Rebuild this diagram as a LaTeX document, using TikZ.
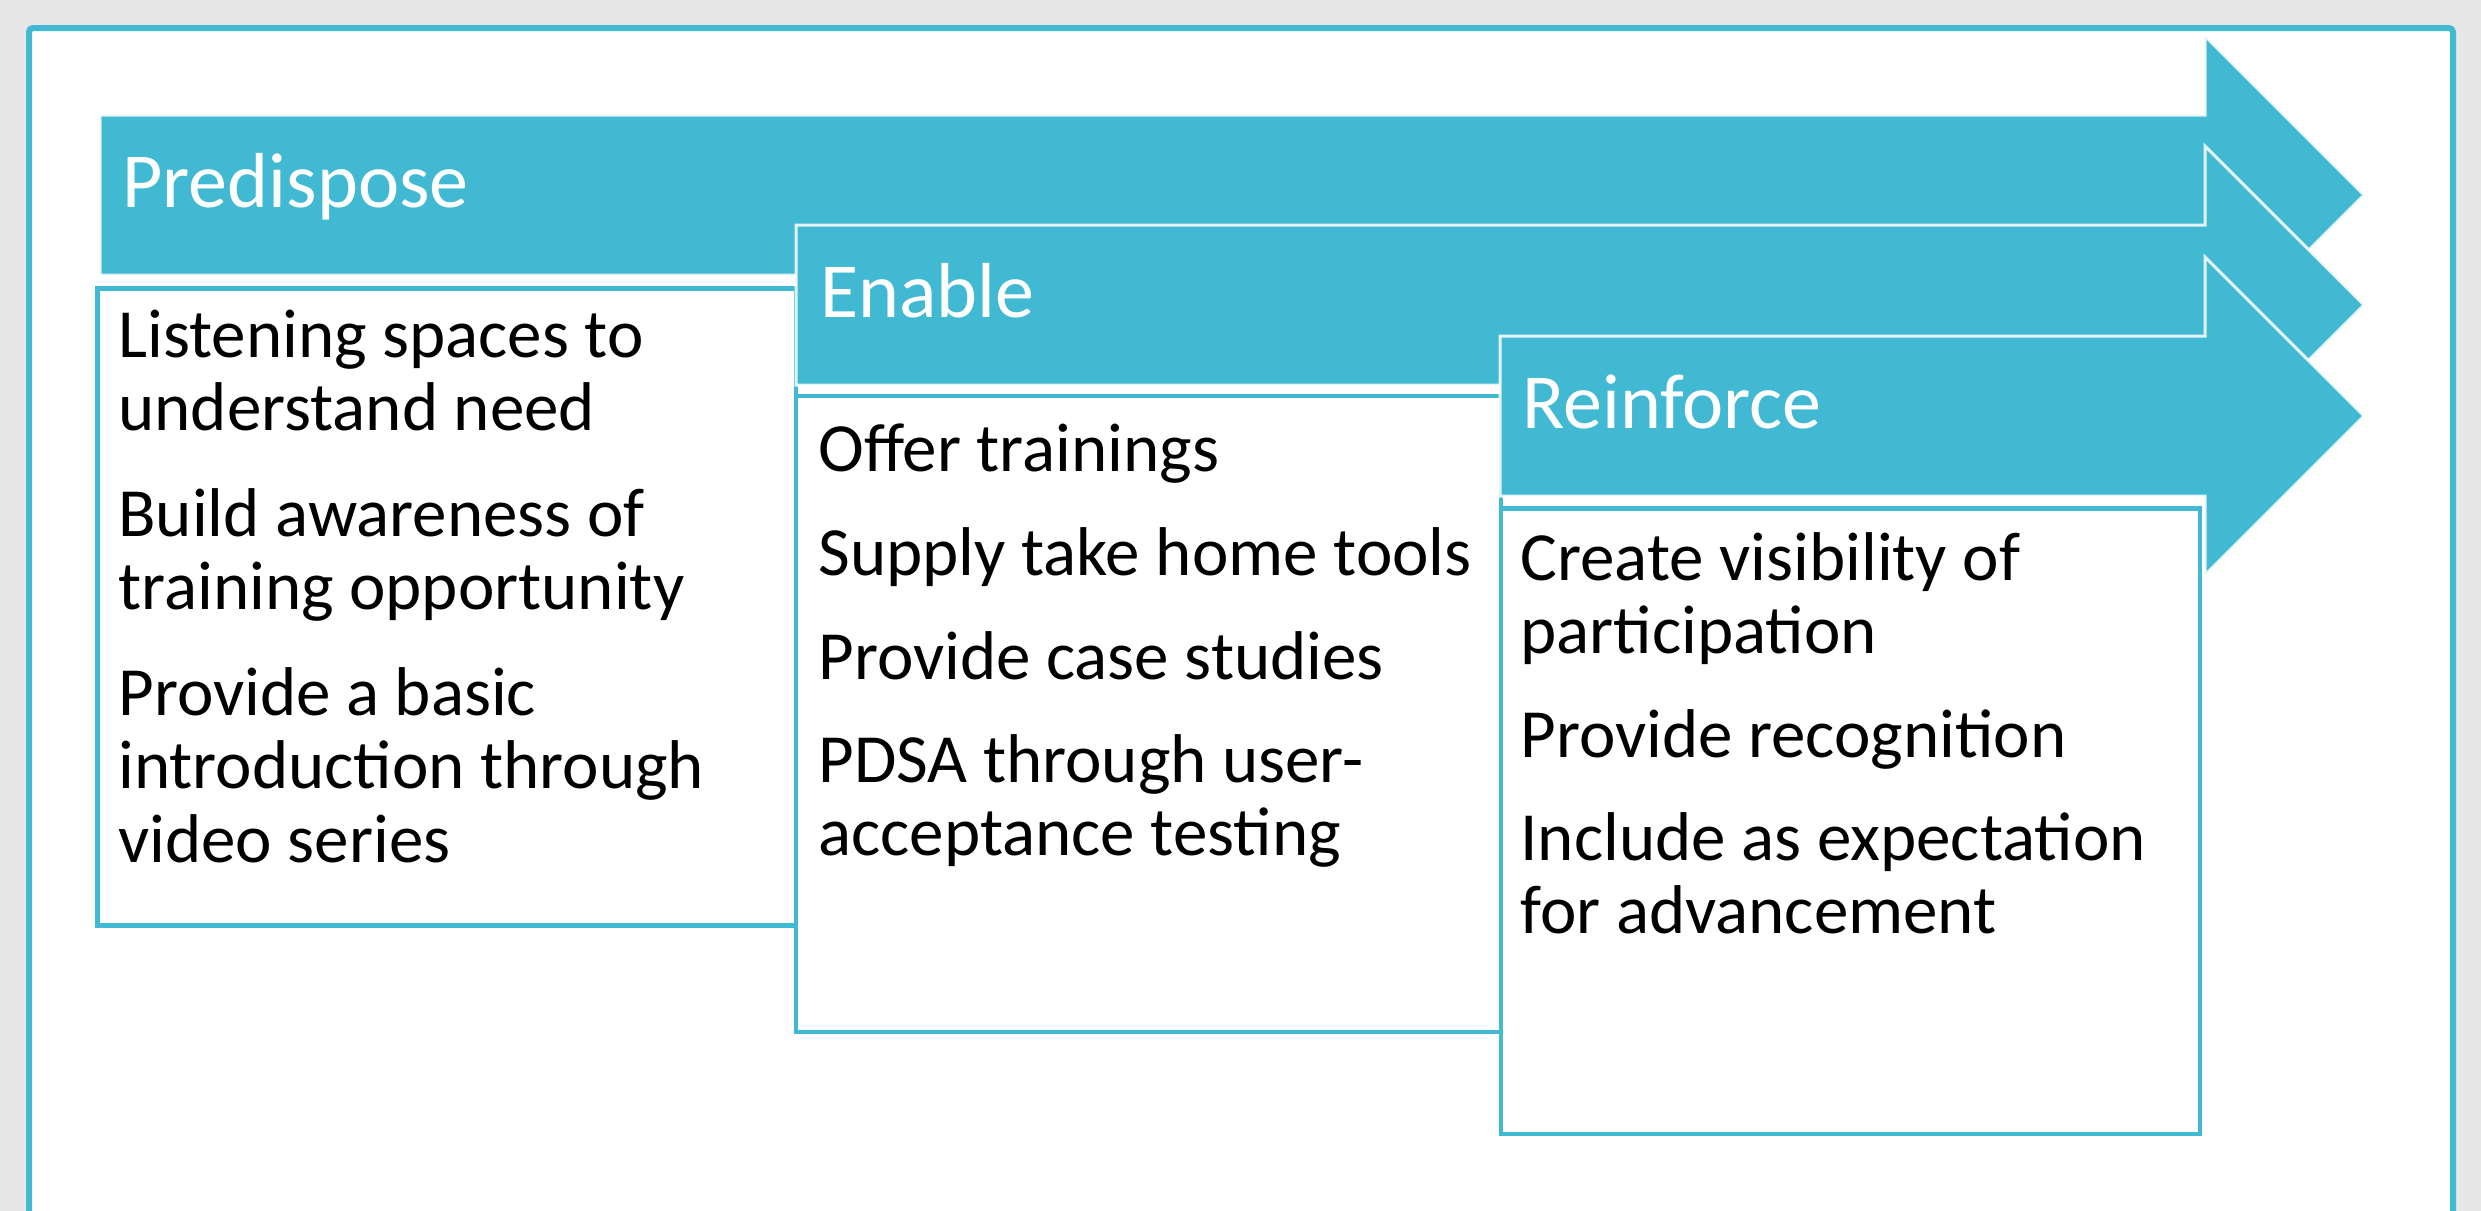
\documentclass[tikz,border=0pt]{standalone}
\usepackage{fontspec}
\setmainfont{Carlito}
\definecolor{tealA}{RGB}{65,185,210}
\definecolor{bggray}{RGB}{231,231,231}
\begin{document}
\begin{tikzpicture}[x=0.5pt,y=-0.5pt,
  arrowshape/.style={fill=tealA, draw=white, draw opacity=0.85, line width=1.5pt, line join=miter},
  txtbox/.style={fill=white, draw=tealA, line width=2.25pt},
  headtxt/.style={anchor=base west, inner sep=0pt, text=white, font=\fontsize{39}{47}\selectfont},
  bodytxt/.style={anchor=base west, inner sep=0pt, text=black, font=\fontsize{34.5}{41}\selectfont}]
\useasboundingbox (0,0) rectangle (2481,1211);
\fill[bggray] (0,0) rectangle (2481,1211);
\filldraw[fill=white, draw=tealA, line width=3pt, rounded corners=2pt] (29,28) rectangle (2453,1262);

% Predispose arrow and box
\draw[arrowshape] (100,115) -- (2205,115) -- (2205,36) -- (2364,195) -- (2205,354) -- (2205,275) -- (100,275) -- cycle;
\node[headtxt] (hP) at (122,207) {Predispose};
\draw[txtbox] (97.5,288.5) rectangle (796,925.5);
\node[bodytxt] (p1) at (118,357) {Listening spaces to};
\node[bodytxt] (p2) at (118,430) {understand need};
\node[bodytxt] (p3) at (118,536) {Build awareness of};
\node[bodytxt] (p4) at (118,609) {training opportunity};
\node[bodytxt] (p5) at (118,715) {Provide a basic};
\node[bodytxt] (p6) at (118,788) {introduction through};
\node[bodytxt] (p7) at (118,862) {video series};

% Enable arrow and box
\draw[arrowshape] (796,225) -- (2205,225) -- (2205,146) -- (2364,305) -- (2205,464) -- (2205,385) -- (796,385) -- cycle;
\node[headtxt] (hE) at (820,317) {Enable};
\draw[txtbox] (796,396) rectangle (1501,1032);
\node[bodytxt] (e1) at (818,471) {Offer trainings};
\node[bodytxt] (e2) at (818,575) {Supply take home tools};
\node[bodytxt] (e3) at (818,679) {Provide case studies};
\node[bodytxt] (e4) at (818,782) {PDSA through user-};
\node[bodytxt] (e5) at (818,855) {acceptance testing};

% Reinforce arrow and box
\draw[arrowshape] (1500,336) -- (2205,336) -- (2205,257) -- (2364,416) -- (2205,575) -- (2205,496) -- (1500,496) -- cycle;
\node[headtxt] (hR) at (1522,428) {Reinforce};
\draw[txtbox] (1501,508.5) rectangle (2200,1134);
\node[bodytxt] (r1) at (1520,580) {Create visibility of};
\node[bodytxt] (r2) at (1520,653) {participation};
\node[bodytxt] (r3) at (1520,757) {Provide recognition};
\node[bodytxt] (r4) at (1520,860) {Include as expectation};
\node[bodytxt] (r5) at (1520,933) {for advancement};
\end{tikzpicture}
\end{document}
